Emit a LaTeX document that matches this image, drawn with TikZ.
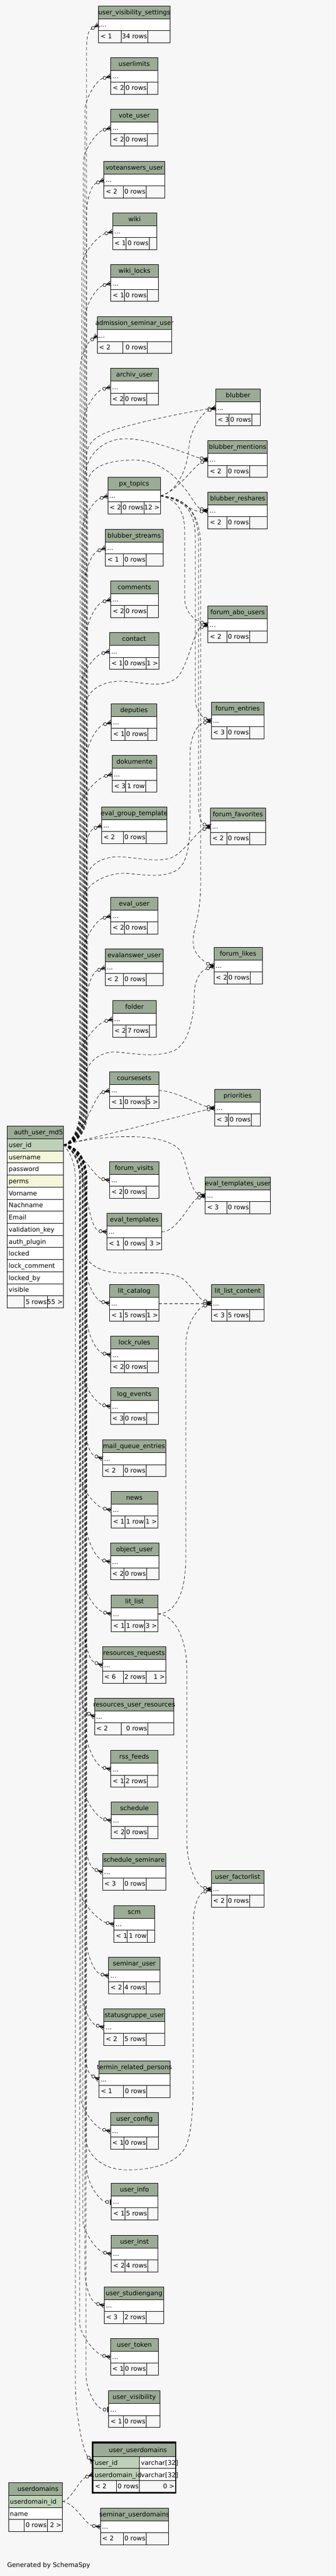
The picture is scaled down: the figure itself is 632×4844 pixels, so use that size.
\documentclass[tikz,border=0pt]{standalone}
\usepackage{fontspec}
\setmainfont{DejaVu Sans}
\definecolor{bgc}{HTML}{F7F7F7}
\definecolor{hdrc}{HTML}{9BAB96}
\definecolor{pkc}{HTML}{BED1B8}
\definecolor{idxc}{HTML}{F4F7DA}
\pgfdeclarelayer{bgl}
\pgfdeclarelayer{edgel}
\pgfsetlayers{bgl,edgel,main}
\newcommand\tfont{\fontsize{12}{14}\selectfont}
\newlength\ttw
\tikzset{
  hdrbox/.style={rectangle, draw=black, fill=hdrc, line width=0.8pt, inner sep=0pt, outer sep=0pt, minimum height=24pt},
  rowbox/.style={rectangle, draw=black, fill=white, line width=0.8pt, inner sep=0pt, outer sep=0pt, minimum height=22.5pt},
  cellline/.style={draw=black, line width=0.8pt},
  ttl/.style={font=\tfont, inner sep=0pt, anchor=base},
  txt/.style={font=\tfont, inner sep=0pt},
  rel/.style={draw=black, line width=0.7pt, dash pattern=on 6pt off 4pt},
  crowodot/.pic={
    \draw[line width=0.8pt] (-9,0) -- (0,-4.5) (-9,0) -- (0,0) (-9,0) -- (0,4.5);
    \fill (-9,0) -- (-1,-2) -- (-1,2) -- cycle;
    \draw[line width=0.8pt, fill=bgc] (-12,0) circle[radius=3];
  },
  teeodotp/.pic={
    \draw[line width=2pt] (-2,-5) -- (-2,5);
    \draw[line width=0.8pt, fill=bgc] (-7.7,0) circle[radius=3];
  }
}
% table: name x1 x2 top cA cB t1 t2 t3
\newcommand\tbl[9]{%
  \settowidth{\ttw}{\tfont\detokenize{#1}}%
  \pgfmathsetmacro\tcx{(#2+#3)/2+0.065*\ttw}%
  \pgfmathsetmacro\tbw{#3-#2}%
  \node[hdrbox, minimum width=\tbw pt, anchor=north west] (#1) at (#2,#4) {};
  \node[ttl] (#1-t) at (\tcx,#4+16) {\detokenize{#1}};
  \node[rowbox, minimum width=\tbw pt, anchor=north west] (#1-r) at (#2,#4+24) {};
  \node[txt, anchor=base west] at (#2+3,#4+39.5) {...};
  \draw[cellline] (#2,#4+46.5) rectangle (#5,#4+69) (#5,#4+46.5) rectangle (#6,#4+69) (#6,#4+46.5) rectangle (#3,#4+69);
  \node[txt, anchor=base west] at (#2+3.5,#4+61.5) {#7};
  \node[txt, anchor=base east] at (#6-1,#4+61.5) {#8};
  \node[txt, anchor=base east] at (#3-1,#4+61.5) {#9};
}
\newcommand\colrow[6]{%
  \node[rowbox, fill=#5, minimum width=#3pt, minimum height=22.72pt, anchor=north west] (#1) at (#2,#4) {};
  \node[txt, anchor=base west] at (#2+2.5,#4+16) {#6};
}
% head: node, coordinate name, angle
\newcommand\hd[3]{%
  \path (#1.west) ++({-15*cos(#3)},{15*sin(#3)}) coordinate (#2);
  \path (#1.west) ++({-28*cos(#3)},{28*sin(#3)}) coordinate (#2c);
  \pic[rotate=#3] at (#1.west) {crowodot};
}
% up edge from auth: table, ymid, trunk x, angle
\newcommand\lup[4]{%
  \hd{#1-r}{#1-in}{#4}%
  \begin{pgfonlayer}{edgel}
  \draw[rel] (auth-uid.east) .. controls (#3-22,2152.8) and (#3,2130) .. (#3,2090) -- (#3,#2+65) .. controls (#3,#2+42) and (#1-inc) .. (#1-in);
  \end{pgfonlayer}
}
\newcommand\ldn[4]{%
  \hd{#1-r}{#1-in}{#4}%
  \begin{pgfonlayer}{edgel}
  \draw[rel] (auth-uid.east) .. controls (#3-22,2152.8) and (#3,2175) .. (#3,2215) -- (#3,#2-65) .. controls (#3,#2-42) and (#1-inc) .. (#1-in);
  \end{pgfonlayer}
}
\newcommand\ldnt[3]{%
  \path (#1-r.west) ++(-10.7,0) coordinate (#1-in);
  \path (#1-r.west) ++(-28,-6) coordinate (#1-inc);
  \pic at (#1-r.west) {teeodotp};
  \begin{pgfonlayer}{edgel}
  \draw[rel] (auth-uid.east) .. controls (#3-22,2152.8) and (#3,2175) .. (#3,2215) -- (#3,#2-65) .. controls (#3,#2-42) and (#1-inc) .. (#1-in);
  \end{pgfonlayer}
}
\begin{document}
\begin{tikzpicture}[x=1pt,y=-1pt]
\begin{pgfonlayer}{bgl}
\fill[bgc] (0,0) rectangle (632,4844);
\end{pgfonlayer}
\useasboundingbox (0,0) rectangle (632,4844);

% ---------- left column tables ----------
\tbl{user_visibility_settings}{185.7}{320.3}{11.3}{228.7}{278.3}{< 1}{34 rows}{}
\tbl{userlimits}{208.7}{297}{108.3}{234.3}{277.3}{< 2}{0 rows}{}
\tbl{vote_user}{208.7}{297}{205.3}{234.3}{277.3}{< 2}{0 rows}{}
\tbl{voteanswers_user}{195.7}{310.3}{303.3}{232}{275}{< 2}{0 rows}{}
\tbl{wiki}{212}{295}{400.3}{237.7}{281}{< 1}{0 rows}{}
\tbl{wiki_locks}{208.7}{298}{497.7}{234.3}{277.3}{< 1}{0 rows}{}
\tbl{admission_seminar_user}{183}{323.7}{595.7}{231.3}{277.3}{< 2}{0 rows}{}
\tbl{archiv_user}{208}{298.7}{692.7}{233}{276}{< 2}{0 rows}{}
\tbl{px_topics}{203}{302}{897.3}{228.7}{271.7}{< 2}{0 rows}{12 >}
\tbl{blubber_streams}{198.7}{307}{995.3}{232}{275}{< 1}{0 rows}{}
\tbl{comments}{208.7}{298}{1092.3}{234.3}{277.3}{< 2}{0 rows}{}
\tbl{contact}{206.3}{299}{1189.7}{232}{275}{< 1}{0 rows}{1 >}
\tbl{deputies}{209.7}{295.3}{1323.3}{235.3}{278.3}{< 1}{0 rows}{}
\tbl{dokumente}{211.3}{295.3}{1420.7}{236}{274}{< 3}{1 row}{}
\tbl{eval_group_template}{191.3}{314.3}{1517.3}{232}{275}{< 2}{0 rows}{}
\tbl{eval_user}{208.7}{297}{1687.3}{234.3}{277.3}{< 2}{0 rows}{}
\tbl{evalanswer_user}{198}{307.7}{1784.3}{232}{275}{< 2}{0 rows}{}
\tbl{folder}{212}{294.7}{1881.3}{237.7}{281}{< 2}{7 rows}{}
\tbl{coursesets}{206.3}{299}{2015.3}{232}{275}{< 1}{0 rows}{5 >}
\tbl{forum_visits}{206.3}{299}{2184.3}{232}{275}{< 2}{0 rows}{}
\tbl{eval_templates}{201.3}{304.7}{2281.3}{232}{275}{< 1}{0 rows}{3 >}
\tbl{lit_catalog}{206.3}{299}{2415.7}{232}{275}{< 1}{5 rows}{1 >}
\tbl{lock_rules}{208.7}{298}{2512.7}{234.3}{277.3}{< 2}{0 rows}{}
\tbl{log_events}{208}{298}{2609.7}{233}{276}{< 3}{0 rows}{}
\tbl{mail_queue_entries}{193}{312}{2707.7}{232}{275}{< 2}{0 rows}{}
\tbl{news}{209.3}{297}{2804.3}{235.3}{272.3}{< 1}{1 row}{1 >}
\tbl{object_user}{208}{299}{2901.7}{233}{276}{< 2}{0 rows}{}
\tbl{lit_list}{209.7}{297}{2999.7}{235.3}{272.3}{< 1}{1 row}{3 >}
\tbl{resources_requests}{193}{312}{3096.3}{232}{275}{< 6}{2 rows}{1 >}
\tbl{resources_user_resources}{178}{327.7}{3193.3}{228.7}{278.3}{< 2}{0 rows}{}
\tbl{rss_feeds}{208.7}{297}{3291.7}{234.3}{277.3}{< 1}{2 rows}{}
\tbl{schedule}{209.7}{297}{3388.3}{235.3}{278.3}{< 2}{0 rows}{}
\tbl{schedule_seminare}{193}{312}{3485.3}{232}{275}{< 3}{0 rows}{}
\tbl{scm}{214.7}{291.3}{3583.3}{239.3}{277.3}{< 1}{1 row}{}
\tbl{seminar_user}{204.7}{301.3}{3680.3}{232}{275}{< 2}{4 rows}{}
\tbl{statusgruppe_user}{195.7}{310.3}{3777.3}{232}{275}{< 2}{5 rows}{}
\tbl{termin_related_persons}{186.3}{320.3}{3875.3}{232}{276}{< 1}{0 rows}{}
\tbl{user_config}{208}{298.7}{3972.3}{233}{276}{< 1}{0 rows}{}
\tbl{user_info}{209.7}{297}{4105.3}{235.3}{278.3}{< 1}{5 rows}{}
\tbl{user_inst}{209.7}{297}{4203.3}{235.3}{278.3}{< 2}{4 rows}{}
\tbl{user_studiengang}{196.3}{308.7}{4300.3}{232}{275}{< 3}{2 rows}{}
\tbl{user_token}{208}{298}{4397.3}{233}{276}{< 1}{0 rows}{}
\tbl{user_visibility}{204.7}{301.3}{4495.7}{232}{275}{< 1}{0 rows}{}
\tbl{seminar_userdomains}{189}{317}{4716.3}{232}{275}{< 2}{0 rows}{}

% ---------- right column tables ----------
\tbl{blubber}{406.3}{490.7}{731.7}{431.3}{474.3}{< 3}{0 rows}{}
\tbl{blubber_mentions}{391.7}{503.7}{828.7}{427}{470}{< 2}{0 rows}{}
\tbl{blubber_reshares}{391.7}{503.7}{925.3}{427}{470}{< 2}{0 rows}{}
\tbl{forum_abo_users}{391.7}{503.7}{1139.7}{427}{470}{< 2}{0 rows}{}
\tbl{forum_entries}{398}{497.3}{1320.3}{427}{470}{< 3}{0 rows}{}
\tbl{forum_favorites}{396.3}{500}{1519.3}{427}{470}{< 2}{0 rows}{}
\tbl{forum_likes}{403}{494}{1781.3}{428}{471}{< 2}{0 rows}{}
\tbl{priorities}{404.7}{490.7}{2048.3}{430.7}{473.3}{< 3}{0 rows}{}
\tbl{eval_templates_user}{386.7}{509.7}{2213.3}{427}{470}{< 3}{0 rows}{}
\tbl{lit_list_content}{398}{497.3}{2415.7}{427}{470}{< 3}{5 rows}{}
\tbl{user_factorlist}{398}{497.3}{3517.3}{427}{470}{< 2}{0 rows}{}

% ---------- auth_user_md5 ----------
\node[hdrbox, minimum width=105.6pt, anchor=north west] (auth_user_md5) at (13.7,2117.7) {};
\node[ttl] at (72.5,2133.7) {auth\_user\_md5};
\colrow{auth-uid}{13.7}{105.6}{2141.3}{pkc}{user\_id}
\colrow{auth-c2}{13.7}{105.6}{2164.02}{idxc}{username}
\colrow{auth-c3}{13.7}{105.6}{2186.74}{white}{password}
\colrow{auth-c4}{13.7}{105.6}{2209.46}{idxc}{perms}
\colrow{auth-c5}{13.7}{105.6}{2232.18}{white}{Vorname}
\colrow{auth-c6}{13.7}{105.6}{2254.9}{white}{Nachname}
\colrow{auth-c7}{13.7}{105.6}{2277.62}{white}{Email}
\colrow{auth-c8}{13.7}{105.6}{2300.34}{white}{validation\_key}
\colrow{auth-c9}{13.7}{105.6}{2323.06}{white}{auth\_plugin}
\colrow{auth-c10}{13.7}{105.6}{2345.78}{white}{locked}
\colrow{auth-c11}{13.7}{105.6}{2368.5}{white}{lock\_comment}
\colrow{auth-c12}{13.7}{105.6}{2391.22}{white}{locked\_by}
\colrow{auth-c13}{13.7}{105.6}{2413.94}{white}{visible}
\draw[cellline] (13.7,2436.66) rectangle (45.7,2459) (45.7,2436.66) rectangle (89,2459) (89,2436.66) rectangle (119.3,2459);
\node[txt, anchor=base east] at (88,2452) {5 rows};
\node[txt, anchor=base east] at (118.3,2452) {55 >};

% ---------- userdomains ----------
\node[hdrbox, minimum width=101pt, anchor=north west] (userdomains) at (16,4668.3) {};
\node[ttl] at (71.5,4684.3) {userdomains};
\colrow{userdomains-uid}{16}{101}{4692.3}{pkc}{userdomain\_id}
\colrow{userdomains-name}{16}{101}{4715}{white}{name}
\draw[cellline] (16,4737.3) rectangle (45.7,4760) (45.7,4737.3) rectangle (89,4760) (89,4737.3) rectangle (117,4760);
\node[txt, anchor=base east] at (88,4752.5) {0 rows};
\node[txt, anchor=base east] at (116,4752.5) {2 >};

% ---------- user_userdomains ----------
\node[hdrbox, minimum width=154.7pt, minimum height=24.6pt, anchor=north west] (user_userdomains) at (175.3,4594.7) {};
\node[ttl] at (259.8,4611) {user\_userdomains};
\node[rowbox, fill=pkc, minimum width=87pt, minimum height=22pt, anchor=north west] (uud-uid) at (175.3,4619.3) {};
\node[rowbox, minimum width=67.7pt, minimum height=22pt, anchor=north west] (uud-t1) at (262.3,4619.3) {};
\node[rowbox, fill=pkc, minimum width=87pt, minimum height=22.7pt, anchor=north west] (uud-did) at (175.3,4641.3) {};
\node[rowbox, minimum width=67.7pt, minimum height=22.7pt, anchor=north west] (uud-t2) at (262.3,4641.3) {};
\node[txt, anchor=base west] at (178.3,4635.5) {user\_id};
\node[txt, anchor=base west] at (265.3,4635.5) {varchar[32]};
\node[txt, anchor=base west] at (178.3,4658) {userdomain\_id};
\node[txt, anchor=base west] at (265.3,4658) {varchar[32]};
\draw[cellline] (175.3,4664) rectangle (219.3,4686.7) (219.3,4664) rectangle (262.3,4686.7) (262.3,4664) rectangle (330,4686.7);
\node[txt, anchor=base west] at (179,4679.5) {< 2};
\node[txt, anchor=base east] at (261.3,4679.5) {0 rows};
\node[txt, anchor=base east] at (329,4679.5) {0 >};
\draw[line width=2.4pt] (174.5,4592.5) rectangle (330.8,4688);

\node[txt, anchor=base west] (gen) at (13.3,4827) {Generated by SchemaSpy};

% ---------- edges from auth_user_md5 to left tables ----------
\lup{user_visibility_settings}{46.55}{163}{30}
\lup{userlimits}{143.55}{160}{14}
\lup{vote_user}{240.55}{157}{16}
\lup{voteanswers_user}{338.55}{163}{22}
\lup{wiki}{435.55}{154}{15}
\lup{wiki_locks}{532.95}{160}{15}
\lup{admission_seminar_user}{630.95}{151}{38}
\lup{archiv_user}{727.95}{157}{15}
\lup{px_topics}{932.55}{155}{18}
\lup{blubber_streams}{1030.55}{160}{20}
\lup{comments}{1127.55}{163}{15}
\lup{contact}{1224.95}{152}{15}
\lup{deputies}{1358.55}{163}{15}
\lup{dokumente}{1455.95}{150}{15}
\lup{eval_group_template}{1552.55}{160}{20}
\lup{eval_user}{1722.55}{158}{15}
\lup{evalanswer_user}{1819.55}{163}{20}
\lup{folder}{1916.55}{153}{15}

\hd{coursesets-r}{coursesets-in}{15}
\hd{forum_visits-r}{forum_visits-in}{-11}
\hd{eval_templates-r}{eval_templates-in}{-6}
\begin{pgfonlayer}{edgel}
\draw[rel] (auth-uid.east) .. controls (152,2148) and (coursesets-inc) .. (coursesets-in);
\draw[rel] (auth-uid.east) .. controls (150,2160) and (forum_visits-inc) .. (forum_visits-in);
\draw[rel] (auth-uid.east) .. controls (165,2170) and (160,2305) .. (eval_templates-in);
\end{pgfonlayer}

\ldn{lit_catalog}{2450.95}{162}{-12}
\ldn{lock_rules}{2547.95}{164}{-12}
\ldn{log_events}{2644.95}{155}{-12}
\ldn{mail_queue_entries}{2742.95}{160}{-20}
\ldn{news}{2839.55}{150}{-12}
\ldn{object_user}{2936.95}{163}{-12}
\ldn{lit_list}{3034.95}{156}{-12}
\ldn{resources_requests}{3131.55}{160}{-20}
\ldn{resources_user_resources}{3228.55}{152}{-30}
\ldn{rss_feeds}{3326.95}{163}{-12}
\ldn{schedule}{3423.55}{157}{-12}
\ldn{schedule_seminare}{3520.55}{160}{-20}
\ldn{scm}{3618.55}{150}{-12}
\ldn{seminar_user}{3715.55}{163}{-12}
\ldn{statusgruppe_user}{3812.55}{155}{-16}
\ldn{termin_related_persons}{3910.55}{160}{-30}
\ldn{user_config}{4007.55}{152}{-12}
\ldnt{user_info}{4140.55}{163}
\ldn{user_inst}{4238.55}{156}{-12}
\ldn{user_studiengang}{4335.55}{160}{-15}
\ldn{user_token}{4432.55}{150}{-12}
\ldnt{user_visibility}{4530.95}{162}

% ---------- heads on right tables ----------
\hd{blubber-r}{blubber-a}{8}
\hd{blubber-r}{blubber-b}{20}
\hd{blubber_mentions-r}{blubber_mentions-a}{-10}
\hd{blubber_mentions-r}{blubber_mentions-b}{25}
\hd{blubber_reshares-r}{blubber_reshares-a}{-15}
\hd{blubber_reshares-r}{blubber_reshares-b}{5}
\hd{forum_abo_users-r}{forum_abo_users-a}{-20}
\hd{forum_abo_users-r}{forum_abo_users-b}{20}
\hd{forum_entries-r}{forum_entries-a}{-20}
\hd{forum_entries-r}{forum_entries-b}{15}
\hd{forum_favorites-r}{forum_favorites-a}{-20}
\hd{forum_favorites-r}{forum_favorites-b}{20}
\hd{forum_likes-r}{forum_likes-a}{-20}
\hd{forum_likes-r}{forum_likes-b}{20}
\hd{priorities-r}{priorities-a}{-10}
\hd{priorities-r}{priorities-b}{12}
\hd{eval_templates_user-r}{eval_templates_user-a}{-17}
\hd{eval_templates_user-r}{eval_templates_user-b}{17}
\hd{lit_list_content-r}{lit_list_content-c}{0}
\hd{lit_list_content-r}{lit_list_content-a}{-20}
\hd{lit_list_content-r}{lit_list_content-b}{20}
\hd{user_factorlist-r}{user_factorlist-a}{-12}
\hd{user_factorlist-r}{user_factorlist-b}{20}
\hd{uud-uid}{uud-a}{-47}
\hd{uud-did}{uud-b}{22}
\hd{seminar_userdomains-r}{seminar_userdomains-in}{-8}

\begin{pgfonlayer}{edgel}
% auth -> right tables
\draw[rel] (auth-uid.east) .. controls (141,2152.8) and (163,2130) .. (163,2090) -- (163,860) .. controls (163,832) and (180,820) .. (215,808) .. controls (290,786) and (blubber-ac) .. (blubber-a);
\draw[rel] (auth-uid.east) .. controls (138,2152.8) and (160,2130) .. (160,2090) -- (160,900) .. controls (160,860) and (190,826) .. (235,825) .. controls (290,825) and (blubber_mentions-ac) .. (blubber_mentions-a);
\draw[rel] (auth-uid.east) .. controls (143,2152.8) and (165,2130) .. (165,2090) -- (165,910) .. controls (165,880) and (200,865) .. (253,865) .. controls (335,866) and (blubber_reshares-ac) .. (blubber_reshares-a);
\draw[rel] (auth-uid.east) .. controls (136,2152.8) and (158,2130) .. (158,2090) -- (158,1340) .. controls (158,1300) and (190,1281) .. (227,1281) .. controls (270,1282) and (300,1295) .. (330,1277) .. controls (352,1263) and (forum_abo_users-bc) .. (forum_abo_users-b);
\draw[rel] (auth-uid.east) .. controls (133,2152.8) and (155,2130) .. (155,2090) -- (155,1700) .. controls (155,1665) and (195,1643) .. (233,1642) .. controls (275,1645) and (310,1652) .. (335,1635) .. controls (355,1620) and (358,1580) .. (358,1540) -- (358,1420) .. controls (358,1385) and (forum_entries-bc) .. (forum_entries-b);
\draw[rel] (auth-uid.east) .. controls (140,2152.8) and (162,2130) .. (162,2090) -- (162,1660) .. controls (162,1630) and (185,1613) .. (220,1611) .. controls (260,1612) and (290,1622) .. (320,1614) .. controls (345,1606) and (forum_favorites-bc) .. (forum_favorites-b);
\draw[rel] (auth-uid.east) .. controls (138,2152.8) and (160,2130) .. (160,2090) -- (160,2030) .. controls (160,2000) and (185,1980) .. (213,1978) .. controls (250,1980) and (290,1990) .. (327,1976) .. controls (358,1962) and (366,1905) .. (366,1870) .. controls (366,1845) and (forum_likes-bc) .. (forum_likes-b);
\draw[rel] (auth-uid.east) .. controls (250,2122) and (priorities-bc) .. (priorities-b);
\draw[rel] (auth-uid.east) .. controls (200,2132) and (322,2128) .. (342,2168) .. controls (352,2190) and (eval_templates_user-ac) .. (eval_templates_user-a);
\draw[rel] (auth-uid.east) .. controls (136,2152.8) and (158,2175) .. (158,2215) -- (158,2345) .. controls (158,2378) and (190,2392) .. (227,2394) .. controls (270,2394) and (315,2390) .. (340,2402) .. controls (358,2412) and (lit_list_content-ac) .. (lit_list_content-a);
\draw[rel] (auth-uid.east) .. controls (139,2152.8) and (161,2175) .. (161,2215) -- (161,4015) .. controls (161,4050) and (190,4078) .. (233,4080) .. controls (280,4082) and (330,4070) .. (348,4040) .. controls (362,4015) and (364,3960) .. (364,3900) -- (364,3620) .. controls (364,3590) and (user_factorlist-bc) .. (user_factorlist-b);
\draw[rel] (auth-uid.east) .. controls (120,2152.8) and (142,2175) .. (142,2215) -- (142,4480) .. controls (142,4540) and (uud-ac) .. (uud-a);
% px_topics -> children
\draw[rel] (px_topics-r.east) .. controls (332,925) and (353,885) .. (356,840) .. controls (358,810) and (blubber-bc) .. (blubber-b);
\draw[rel] (px_topics-r.east) .. controls (332,926) and (blubber_mentions-bc) .. (blubber_mentions-b);
\draw[rel] (px_topics-r.east) .. controls (330,934) and (blubber_reshares-bc) .. (blubber_reshares-b);
\draw[rel] (px_topics-r.east) .. controls (332,938) and (348,960) .. (348,1000) -- (348,1125) .. controls (348,1150) and (forum_abo_users-ac) .. (forum_abo_users-a);
\draw[rel] (px_topics-r.east) .. controls (345,937) and (368,960) .. (368,1010) -- (368,1315) .. controls (368,1332) and (376,1342) .. (forum_entries-a);
\draw[rel] (px_topics-r.east) .. controls (350,936) and (374,962) .. (374,1020) -- (374,1505) .. controls (374,1528) and (376,1541) .. (forum_favorites-a);
\draw[rel] (px_topics-r.east) .. controls (352,935) and (378,966) .. (378,1030) -- (378,1660) .. controls (378,1730) and (362,1745) .. (364,1775) .. controls (366,1795) and (380,1803) .. (forum_likes-a);
% other parents
\draw[rel] (coursesets-r.east) .. controls (330,2051) and (priorities-ac) .. (priorities-a);
\draw[rel] (eval_templates-r.east) .. controls (335,2316) and (eval_templates_user-bc) .. (eval_templates_user-b);
\draw[rel] (lit_catalog-r.east) -- (lit_list_content-c);
\draw[rel] (lit_list-r.east) .. controls (328,3034) and (350,3000) .. (350,2930) -- (350,2530) .. controls (350,2490) and (lit_list_content-bc) .. (lit_list_content-b);
\draw[rel] (lit_list-r.east) .. controls (328,3036) and (352,3080) .. (352,3140) -- (352,3460) .. controls (352,3510) and (user_factorlist-ac) .. (user_factorlist-a);
\draw[rel] (userdomains-uid.east) .. controls (133,4703) and (uud-bc) .. (uud-b);
\draw[rel] (userdomains-uid.east) .. controls (140,4705) and (seminar_userdomains-inc) .. (seminar_userdomains-in);
\end{pgfonlayer}
\end{tikzpicture}
\end{document}
